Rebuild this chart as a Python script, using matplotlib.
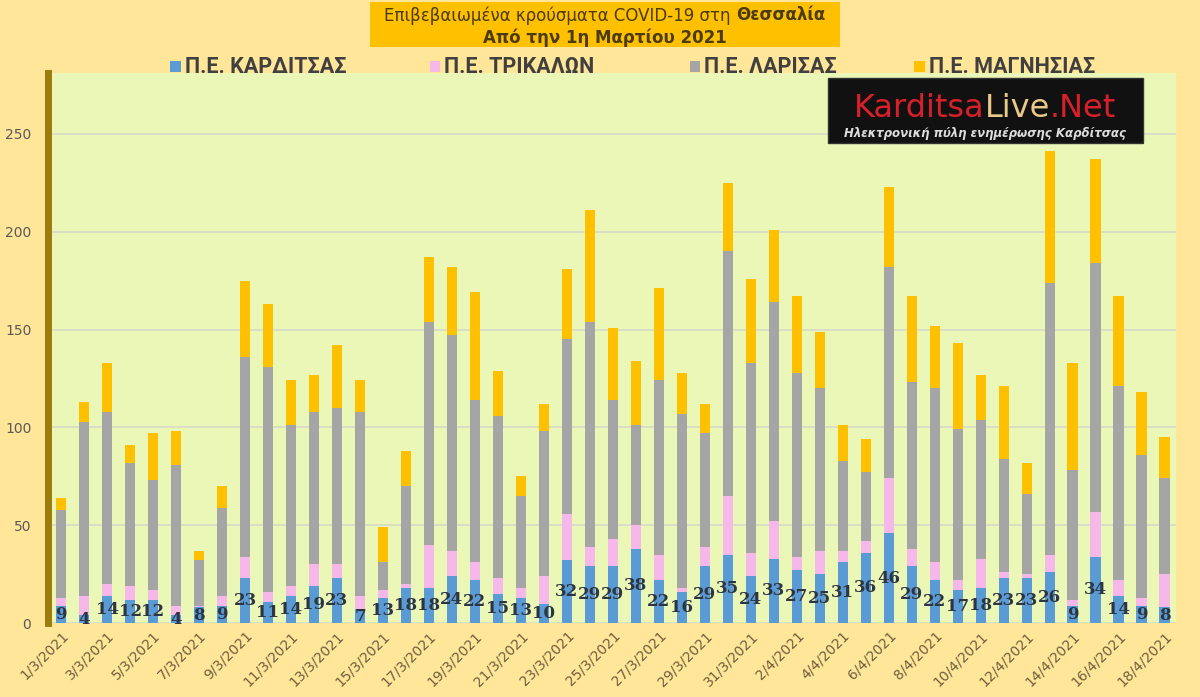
import matplotlib
matplotlib.use("Agg")
import matplotlib.pyplot as plt
from matplotlib.patches import Rectangle
import numpy as np

# dates 1/3/2021 .. 18/4/2021
dates = [f"{d}/3/2021" for d in range(1, 32)] + [f"{d}/4/2021" for d in range(1, 19)]

karditsa = [9, 4, 14, 12, 12, 4, 8, 9, 23, 11, 14, 19, 23, 7, 13, 18, 18, 24, 22, 15,
            13, 10, 32, 29, 29, 38, 22, 16, 29, 35, 24, 33, 27, 25, 31, 36, 46, 29, 22, 17,
            18, 23, 23, 26, 9, 34, 14, 9, 8]
trikala = [4, 10, 6, 7, 5, 5, 1, 5, 11, 5, 5, 11, 7, 7, 4, 2, 22, 13, 9, 8,
           5, 14, 24, 10, 14, 12, 13, 2, 10, 30, 12, 19, 7, 12, 6, 6, 28, 9, 9, 5,
           15, 3, 2, 9, 3, 23, 8, 4, 17]
larisa = [45, 89, 88, 63, 56, 72, 23, 45, 102, 115, 82, 78, 80, 94, 14, 50, 114, 110, 83, 83,
          47, 74, 89, 115, 71, 51, 89, 89, 58, 125, 97, 112, 94, 83, 46, 35, 108, 85, 89, 77,
          71, 58, 41, 139, 66, 127, 99, 73, 49]
magnisia = [6, 10, 25, 9, 24, 17, 5, 11, 39, 32, 23, 19, 32, 16, 18, 18, 33, 35, 55, 23,
            10, 14, 36, 57, 37, 33, 47, 21, 15, 35, 43, 37, 39, 29, 18, 17, 41, 44, 32, 44,
            23, 37, 16, 67, 55, 53, 46, 32, 21]

names = ["Π.Ε. ΚΑΡΔΙΤΣΑΣ", "Π.Ε. ΤΡΙΚΑΛΩΝ", "Π.Ε. ΛΑΡΙΣΑΣ", "Π.Ε. ΜΑΓΝΗΣΙΑΣ"]
colors = ["#5B9BD5", "#F6B8E8", "#A5A5A5", "#FFC000"]

fig = plt.figure(figsize=(12, 6.97), dpi=100)
fig.patch.set_facecolor("#FFE699")
ax = fig.add_axes([0.040, 0.106, 0.940, 0.789])
ax.set_facecolor("#EBF7B6")

x = np.arange(len(dates))
bottom = np.zeros(len(dates))
for vals, c in zip([karditsa, trikala, larisa, magnisia], colors):
    ax.bar(x, vals, width=0.44, bottom=bottom, color=c, edgecolor="none", zorder=3)
    bottom += np.array(vals)

for xi, v in zip(x, karditsa):
    ax.text(xi, v / 2, str(v), ha="center", va="center", fontsize=12, fontweight="bold",
            family="DejaVu Serif", color="#2E3542", zorder=4)

ax.set_xlim(-0.57, 48.5)
ax.set_ylim(0, 281)
ax.set_yticks([0, 50, 100, 150, 200, 250])
ax.grid(axis="y", color="#D6D9C8", linewidth=1.2, zorder=0)
ax.tick_params(axis="y", length=0, labelsize=10, labelcolor="#595959", pad=12)
ax.set_xticks(x[::2])
ax.set_xticklabels(dates[::2], rotation=45, ha="right", rotation_mode="anchor",
                   fontsize=10, color="#6E5E3C")
ax.tick_params(axis="x", length=0, pad=4)
for s in ["top", "right", "bottom"]:
    ax.spines[s].set_visible(False)
ax.spines["left"].set_color("#9E7C0C")
ax.spines["left"].set_linewidth(5)

renderer = fig.canvas.get_renderer()
W = fig.bbox.width


def runs(xc, y, parts, **kw):
    # lay out text pieces side by side, centred on xc (figure fraction)
    objs = [fig.text(0, y, s, ha="left", va="center", **kw, **p) for s, p in parts]
    widths = [o.get_window_extent(renderer).width / W for o in objs]
    xs = xc - sum(widths) / 2
    for o, w in zip(objs, widths):
        o.set_x(xs)
        xs += w


# title box
fig.patches.append(Rectangle((0.308, 0.933), 0.392, 0.064, transform=fig.transFigure,
                             facecolor="#FFC000", edgecolor="none", zorder=1))
runs(0.504, 0.978, [("Επιβεβαιωμένα κρούσματα COVID-19 στη ", {}),
                    ("Θεσσαλία", {"fontweight": "bold"})],
     fontsize=12, color="#4A3B10")
fig.text(0.504, 0.946, "Από την 1η Μαρτίου 2021", ha="center", va="center",
         fontsize=12, fontweight="bold", color="#4A3B10")

# legend
leg_x = [0.142, 0.358, 0.575, 0.762]
for lx, c, n in zip(leg_x, colors, names):
    fig.patches.append(Rectangle((lx, 0.897), 0.0085, 0.015, transform=fig.transFigure,
                                 facecolor=c, edgecolor="none"))
    fig.text(lx + 0.012, 0.904, n, ha="left", va="center", fontsize=15.5,
             fontweight="bold", family="Roboto", color="#404040")

# logo
fig.patches.append(Rectangle((0.690, 0.795), 0.2625, 0.093, transform=fig.transFigure,
                             facecolor="#111111", edgecolor="#333333", zorder=5))
runs(0.821, 0.845, [("Karditsa", {"color": "#D8202A"}), ("Live", {"color": "#E9C987"}),
                    (".Net", {"color": "#D8202A"})], fontsize=23, zorder=6)
fig.text(0.821, 0.808, "Ηλεκτρονική πύλη ενημέρωσης Καρδίτσας", ha="center", va="center",
         fontsize=8.5, fontstyle="italic", fontweight="bold", color="#DDDDDD", zorder=6)

fig.savefig("out.png", dpi=100, facecolor=fig.get_facecolor())
